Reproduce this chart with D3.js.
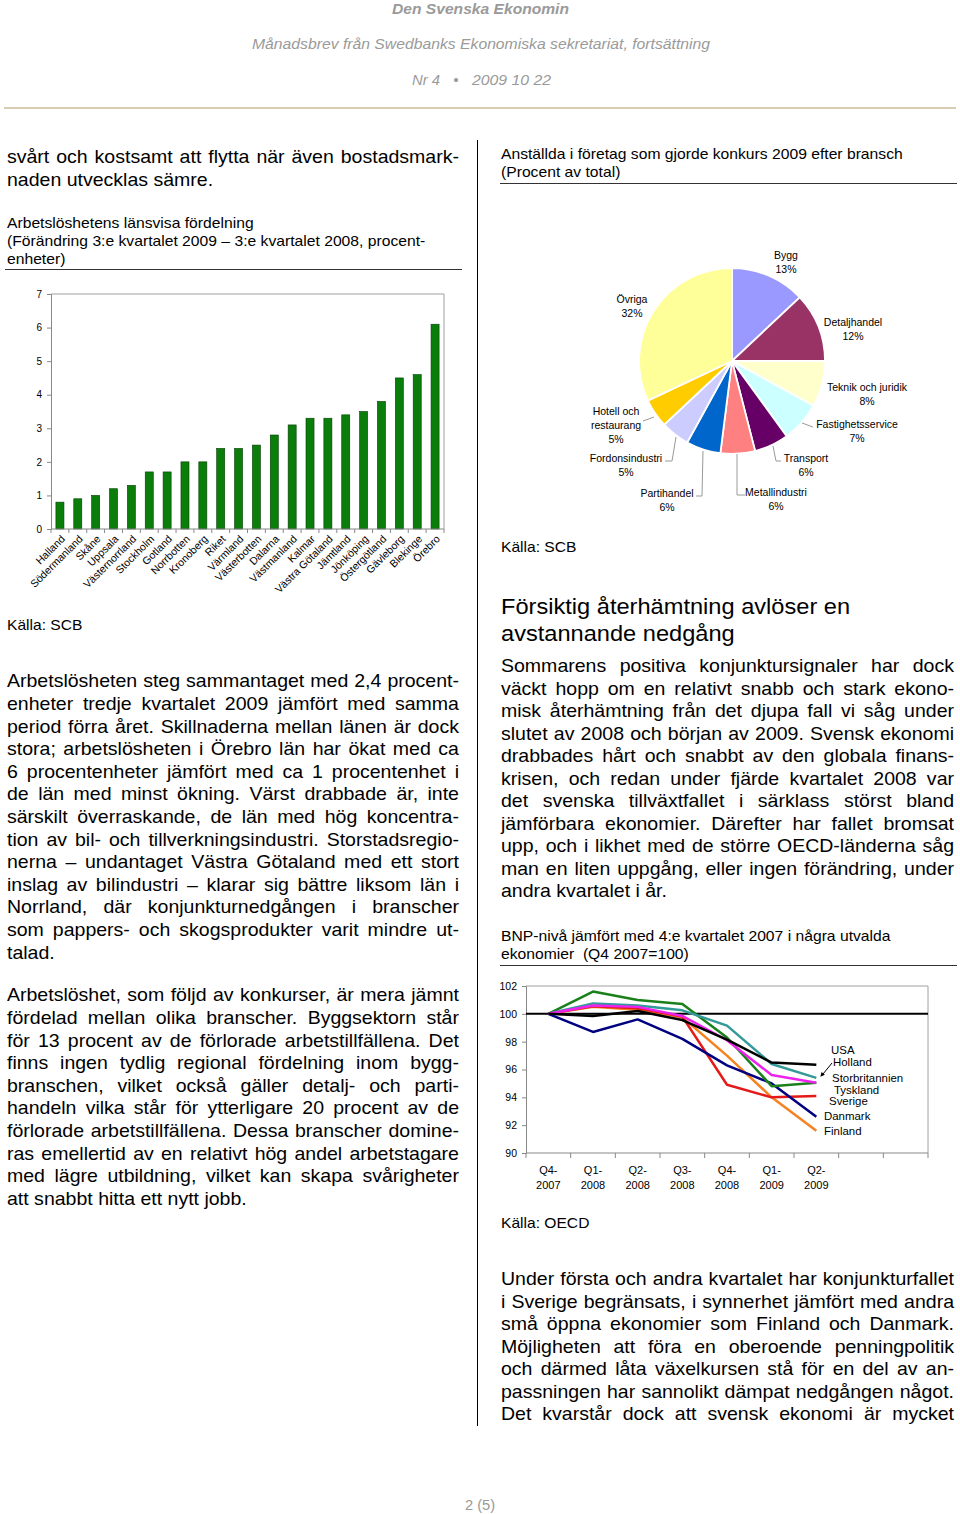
<!DOCTYPE html>
<html><head><meta charset="utf-8">
<script src="https://cdn.jsdelivr.net/npm/d3@7"></script>
<style>
body{margin:0;background:#fff}
svg{display:block;font-family:"Liberation Sans",Arial,Helvetica,sans-serif}
</style>
</head><body>
<svg id="page" width="960" height="1514"></svg>
<script>
// ---------------- DATA ----------------
const counties = ["Halland","Södermanland","Skåne","Uppsala","Västernorrland","Stockholm","Gotland","Norrbotten","Kronoberg","Riket","Värmland","Västerbotten","Dalarna","Västmanland","Kalmar","Västra Götaland","Jämtland","Jönköping","Östergötland","Gävleborg","Blekinge","Örebro"];
const unemploymentChange = [0.8,0.9,1.0,1.2,1.3,1.7,1.7,2.0,2.0,2.4,2.4,2.5,2.8,3.1,3.3,3.3,3.4,3.5,3.8,4.5,4.6,6.1];
const barTicks = [0,1,2,3,4,5,6,7];

const sectors = ["Bygg","Detaljhandel","Teknik och juridik","Fastighetsservice","Transport","Metallindustri","Partihandel","Fordonsindustri","Hotell och restaurang","Övriga"];
const sectorShares = [13,12,8,7,6,6,6,5,5,32];
const sectorColors = ["#9999ff","#993366","#ffffcc","#ccffff","#660066","#ff8080","#0066cc","#ccccff","#ffcc00","#ffff99"];

const quarterTop = ["Q4-","Q1-","Q2-","Q3-","Q4-","Q1-","Q2-"];
const quarterBottom = ["2007","2008","2008","2008","2008","2009","2009"];
const gdpTicks = [90,92,94,96,98,100,102];
const countries = ["Finland","Sverige","Danmark","Tyskland","Holland","Storbritannien","USA"];
const gdpFinland        = [100,100.5,100.3,99.75,97.0,94.0,91.6];
const gdpSverige        = [100,100.55,100.4,99.8,94.9,94.0,94.1];
const gdpDanmark        = [100,98.7,99.6,98.2,96.3,95.0,92.6];
const gdpTyskland       = [100,101.6,101.0,100.7,98.3,94.8,95.05];
const gdpHolland        = [100,100.75,100.6,100.25,99.15,96.4,95.4];
const gdpStorbritannien = [100,100.6,100.5,99.85,98.1,95.6,95.05];
const gdpUSA            = [100,99.85,100.2,99.55,98.15,96.5,96.35];
const countryColors = ["#f58220","#e41a1a","#000080","#1a801a","#339999","#ee22ee","#000000"];

// ---------------- TEXT ----------------
const textTop = ["svårt och kostsamt att flytta när även bostadsmark-","naden utvecklas sämre."];
const textLeft1 = ["Arbetslösheten steg sammantaget med 2,4 procent-","enheter tredje kvartalet 2009 jämfört med samma","period förra året. Skillnaderna mellan länen är dock","stora; arbetslösheten i Örebro län har ökat med ca","6 procentenheter jämfört med ca 1 procentenhet i","de län med minst ökning. Värst drabbade är, inte","särskilt överraskande, de län med hög koncentra-","tion av bil- och tillverkningsindustri. Storstadsregio-","nerna – undantaget Västra Götaland med ett stort","inslag av bilindustri – klarar sig bättre liksom län i","Norrland, där konjunkturnedgången i branscher","som pappers- och skogsprodukter varit mindre ut-","talad."];
const textLeft2 = ["Arbetslöshet, som följd av konkurser, är mera jämnt","fördelad mellan olika branscher. Byggsektorn står","för 13 procent av de förlorade arbetstillfällena. Det","finns ingen tydlig regional fördelning inom bygg-","branschen, vilket också gäller detalj- och parti-","handeln vilka står för ytterligare 20 procent av de","förlorade arbetstillfällena. Dessa branscher domine-","ras emellertid av en relativt hög andel arbetstagare","med lägre utbildning, vilket kan skapa svårigheter","att snabbt hitta ett nytt jobb."];
const textRight1 = ["Sommarens positiva konjunktursignaler har dock","väckt hopp om en relativt snabb och stark ekono-","misk återhämtning från det djupa fall vi såg under","slutet av 2008 och början av 2009. Svensk ekonomi","drabbades hårt och snabbt av den globala finans-","krisen, och redan under fjärde kvartalet 2008 var","det svenska tillväxtfallet i särklass störst bland","jämförbara ekonomier. Därefter har fallet bromsat","upp, och i likhet med de större OECD-länderna såg","man en liten uppgång, eller ingen förändring, under","andra kvartalet i år."];
const textRight2 = ["Under första och andra kvartalet har konjunkturfallet","i Sverige begränsats, i synnerhet jämfört med andra","små öppna ekonomier som Finland och Danmark.","Möjligheten att föra en oberoende penningpolitik","och därmed låta växelkursen stå för en del av an-","passningen har sannolikt dämpat nedgången något.","Det kvarstår dock att svensk ekonomi är mycket"];

const svg = d3.select("#page");

// ---------- helpers ----------
const BODY = 18, BODY_SX = 1.085;
function para(x, y0, step, width, lines, size, sx, justifyLast) {
  const g = svg.append("g").style("font-size", size + "px").attr("fill", "#000");
  lines.forEach((ln, i) => {
    const gl = g.append("g").attr("transform", `translate(${x},${y0 + i * step}) scale(${sx},1)`);
    const t = gl.append("text").attr("x", 0).attr("y", 0).attr("dy", "0.35em");
    const last = (i === lines.length - 1) && !justifyLast;
    if (last) { t.text(ln); return; }
    const words = ln.split(" ");
    const spans = words.map(w => t.append("tspan").text(w));
    const widths = spans.map(s => s.node().getComputedTextLength());
    const gap = (width / sx - d3.sum(widths)) / Math.max(1, words.length - 1);
    let cx = 0;
    spans.forEach((s, j) => { s.attr("x", cx); cx += widths[j] + gap; });
  });
}
function plain(x, y, str, size, opts = {}) {
  const sx = opts.sx || 1;
  const gl = svg.append("g").attr("transform", `translate(${x},${y}) scale(${sx},1)`);
  return gl.append("text").attr("x", 0).attr("y", 0).attr("dy", "0.35em")
    .style("font-size", size + "px").attr("fill", opts.fill || "#000")
    .style("white-space", "pre")
    .attr("text-anchor", opts.anchor || "start").text(str);
}

// ---------- header ----------
const hdr = svg.append("g").attr("fill", "#9a9a9a").style("font-family", "'Liberation Sans Narrow','Arial Narrow','Liberation Sans',Arial,sans-serif").style("font-style", "italic");
hdr.append("text").attr("x", 392).attr("y", 9).attr("dy", "0.35em").style("font-size", "15px").style("font-weight", "bold")
  .attr("textLength", 177).attr("lengthAdjust", "spacingAndGlyphs").text("Den Svenska Ekonomin");
hdr.append("text").attr("x", 252).attr("y", 44).attr("dy", "0.35em").style("font-size", "15px")
  .attr("textLength", 458).attr("lengthAdjust", "spacingAndGlyphs").text("Månadsbrev från Swedbanks Ekonomiska sekretariat, fortsättning");
hdr.append("text").attr("x", 412).attr("y", 80).attr("dy", "0.35em").style("font-size", "15px")
  .attr("textLength", 28).attr("lengthAdjust", "spacingAndGlyphs").text("Nr 4");
hdr.append("text").attr("x", 456).attr("y", 80).attr("dy", "0.35em").style("font-size", "15px")
  .attr("text-anchor", "middle").text("•");
hdr.append("text").attr("x", 472).attr("y", 80).attr("dy", "0.35em").style("font-size", "15px")
  .attr("textLength", 79).attr("lengthAdjust", "spacingAndGlyphs").text("2009 10 22");
svg.append("line").attr("x1", 4).attr("x2", 956).attr("y1", 108).attr("y2", 108).attr("stroke", "#dacdb2").attr("stroke-width", 2);

// column separator
svg.append("line").attr("x1", 477.5).attr("x2", 477.5).attr("y1", 140).attr("y2", 1426).attr("stroke", "#000").attr("stroke-width", 1);

// ---------- left column text ----------
const TSX = 1.12;
para(7, 157, 22.5, 452, textTop, BODY, BODY_SX, false);
plain(7, 223, "Arbetslöshetens länsvisa fördelning", 14, { sx: TSX });
plain(7, 241, "(Förändring 3:e kvartalet 2009 – 3:e kvartalet 2008, procent-", 14, { sx: TSX });
plain(7, 259, "enheter)", 14, { sx: TSX });
svg.append("line").attr("x1", 5).attr("x2", 462).attr("y1", 269.5).attr("y2", 269.5).attr("stroke", "#333");
plain(7, 625, "Källa: SCB", 15, { sx: 1.04 });
para(7, 681, 22.6, 452, textLeft1, BODY, BODY_SX, false);
para(7, 995, 22.6, 452, textLeft2, BODY, BODY_SX, false);

// ---------- right column text ----------
plain(501, 154, "Anställda i företag som gjorde konkurs 2009 efter bransch", 14, { sx: TSX });
plain(501, 172, "(Procent av total)", 14, { sx: TSX });
svg.append("line").attr("x1", 500).attr("x2", 957).attr("y1", 183.5).attr("y2", 183.5).attr("stroke", "#333");
plain(501, 547, "Källa: SCB", 15, { sx: 1.04 });
plain(501, 606, "Försiktig återhämtning avlöser en", 22, { sx: 1.074 });
plain(501, 633, "avstannande nedgång", 22, { sx: 1.074 });
para(501, 666, 22.5, 453, textRight1, BODY, BODY_SX, false);
plain(501, 936, "BNP-nivå jämfört med 4:e kvartalet 2007 i några utvalda", 14, { sx: TSX });
plain(501, 954, "ekonomier  (Q4 2007=100)", 14, { sx: TSX });
svg.append("line").attr("x1", 500).attr("x2", 957).attr("y1", 965.5).attr("y2", 965.5).attr("stroke", "#333");
plain(501, 1223, "Källa: OECD", 15, { sx: 1.04 });
para(501, 1279, 22.5, 453, textRight2, BODY, BODY_SX, true);
plain(480, 1505, "2 (5)", 14, { anchor: "middle", fill: "#999", sx: 1.05 });

// ---------- BAR CHART ----------
(function () {
  const x = d3.scaleBand().domain(counties).range([51, 444]).paddingInner(0.55).paddingOuter(0.275);
  const y = d3.scaleLinear().domain([0, 7]).range([529, 294]);
  const g = svg.append("g");
  g.append("path").attr("d", `M51,294H444V529`).attr("fill", "none").attr("stroke", "#a0a0a0");
  g.selectAll("rect.bar").data(unemploymentChange).join("rect").attr("class", "bar")
    .attr("x", (d, i) => x(counties[i])).attr("width", x.bandwidth())
    .attr("y", d => y(d)).attr("height", d => y(0) - y(d))
    .attr("fill", "#0b7d0b").attr("stroke", "#034003").attr("stroke-width", 0.6);
  const ya = g.append("g").attr("transform", "translate(51,0)")
    .call(d3.axisLeft(y).tickValues(barTicks).tickSize(4).tickPadding(5).tickFormat(d3.format("d")));
  ya.select(".domain").attr("stroke", "#888");
  ya.selectAll(".tick line").attr("stroke", "#888");
  ya.selectAll("text").style("font-size", "10px").attr("fill", "#000").style("font-family", "'Liberation Sans',Arial,sans-serif");
  g.append("line").attr("x1", 51).attr("x2", 444).attr("y1", 529).attr("y2", 529).attr("stroke", "#888");
  const step = x.step();
  g.selectAll("line.xt").data(d3.range(counties.length + 1)).join("line").attr("class", "xt")
    .attr("x1", i => 51 + i * step).attr("x2", i => 51 + i * step).attr("y1", 529).attr("y2", 533).attr("stroke", "#888");
  g.selectAll("text.xl").data(counties).join("text").attr("class", "xl")
    .attr("transform", d => `translate(${x(d) + x.bandwidth() / 2 + 3},537) rotate(-45)`)
    .attr("text-anchor", "end").attr("dy", "0.35em").style("font-size", "10.6px").text(d => d);
})();

// ---------- PIE CHART ----------
(function () {
  const cx = 732, cy = 361, r = 93;
  const pie = d3.pie().sort(null).value(d => d)(sectorShares);
  const arc = d3.arc().innerRadius(0).outerRadius(r);
  const g = svg.append("g").attr("transform", `translate(${cx},${cy})`);
  g.selectAll("path").data(pie).join("path").attr("d", arc)
    .attr("fill", (d, i) => sectorColors[i]).attr("stroke", "#fff").attr("stroke-width", 1.8);
  const labelPos = [[54,-106],[121,-39],[135,26],[125,63],[74,97],[44,131],[-65,132],[-106,97],[-116,50],[-100,-62]];
  const labelLines = [["Bygg"],["Detaljhandel"],["Teknik och juridik"],["Fastighetsservice"],["Transport"],["Metallindustri"],["Partihandel"],["Fordonsindustri"],["Hotell och","restaurang"],["Övriga"]];
  pie.forEach((p, i) => {
    const [dx, dy] = labelPos[i];
    const lines = labelLines[i].concat([sectorShares[i] + "%"]);
    const t = g.append("text").attr("text-anchor", "middle").style("font-size", "10.5px");
    lines.forEach((l, k) => t.append("tspan").attr("x", dx).attr("y", dy + k * 14).attr("dy", "0.35em").text(l));
  });
  const leaders = {
    3: [[70,62],[81,66]],
    4: [[41,85],[44,100],[49,100]],
    5: [[5,93],[5,134],[13,134]],
    6: [[-29,90],[-30,135],[-36,135]],
    7: [[-56,76],[-60,100],[-67,100]],
    8: [[-78,56],[-89,60]]
  };
  Object.entries(leaders).forEach(([k, pts]) => {
    g.append("path").attr("d", d3.line()(pts)).attr("fill", "none").attr("stroke", "#9a9a9a").attr("stroke-width", 1);
  });
})();

// ---------- LINE CHART ----------
(function () {
  const x = d3.scaleBand().domain(d3.range(9)).range([526, 928]);
  const y = d3.scaleLinear().domain([90, 102]).range([1153, 986]);
  const px = i => x(i) + x.bandwidth() / 2;
  const g = svg.append("g");
  g.append("path").attr("d", "M526,986H928V1153").attr("fill", "none").attr("stroke", "#a0a0a0");
  const ya = g.append("g").attr("transform", "translate(526,0)")
    .call(d3.axisLeft(y).tickValues(gdpTicks).tickSize(4).tickPadding(5));
  ya.select(".domain").attr("stroke", "#888");
  ya.selectAll(".tick line").attr("stroke", "#888");
  ya.selectAll("text").style("font-size", "10.5px").attr("fill", "#000").style("font-family", "'Liberation Sans',Arial,sans-serif");
  g.append("line").attr("x1", 526).attr("x2", 928).attr("y1", 1153).attr("y2", 1153).attr("stroke", "#888");
  g.selectAll("line.xt").data(d3.range(10)).join("line").attr("class", "xt")
    .attr("x1", i => 526 + i * x.step()).attr("x2", i => 526 + i * x.step())
    .attr("y1", 1153).attr("y2", 1158).attr("stroke", "#888");
  quarterTop.forEach((q, i) => {
    const t = g.append("text").attr("text-anchor", "middle").style("font-size", "11px");
    t.append("tspan").attr("x", px(i)).attr("y", 1170).attr("dy", "0.35em").text(q);
    t.append("tspan").attr("x", px(i)).attr("y", 1185).attr("dy", "0.35em").text(quarterBottom[i]);
  });
  g.append("line").attr("x1", 526).attr("x2", 928).attr("y1", y(100)).attr("y2", y(100)).attr("stroke", "#000").attr("stroke-width", 2);
  const series = [gdpFinland, gdpSverige, gdpDanmark, gdpTyskland, gdpHolland, gdpStorbritannien, gdpUSA];
  const line = d3.line().x((d, i) => px(i)).y(d => y(d));
  series.forEach((s, k) => {
    g.append("path").attr("d", line(s)).attr("fill", "none").attr("stroke", countryColors[k])
      .attr("stroke-width", 2.5).attr("stroke-linejoin", "round");
  });
  const lab = [["USA",831,1050],["Holland",833,1062],["Storbritannien",832,1078],["Tyskland",834,1090],["Sverige",829,1101],["Danmark",824,1116],["Finland",824,1131]];
  lab.forEach(([n, lx, ly]) => plain(lx, ly, n, 11, { sx: 1.04 }));
  const last = gdpHolland.length - 1;
  const ax = px(last) + 4, ay = y(gdpHolland[last]) - 1;
  g.append("line").attr("x1", 832).attr("y1", 1063).attr("x2", ax + 2).attr("y2", ay - 2).attr("stroke", "#000").attr("stroke-width", 1);
  const ang = Math.atan2(ay - 1063, ax - 832);
  const hx = ax, hy = ay, L = 5;
  g.append("path").attr("d", d3.line()([[hx, hy], [hx - L * Math.cos(ang - 0.45), hy - L * Math.sin(ang - 0.45)], [hx - L * Math.cos(ang + 0.45), hy - L * Math.sin(ang + 0.45)]]) + "Z")
    .attr("fill", "#000");
})();
</script>
</body></html>
